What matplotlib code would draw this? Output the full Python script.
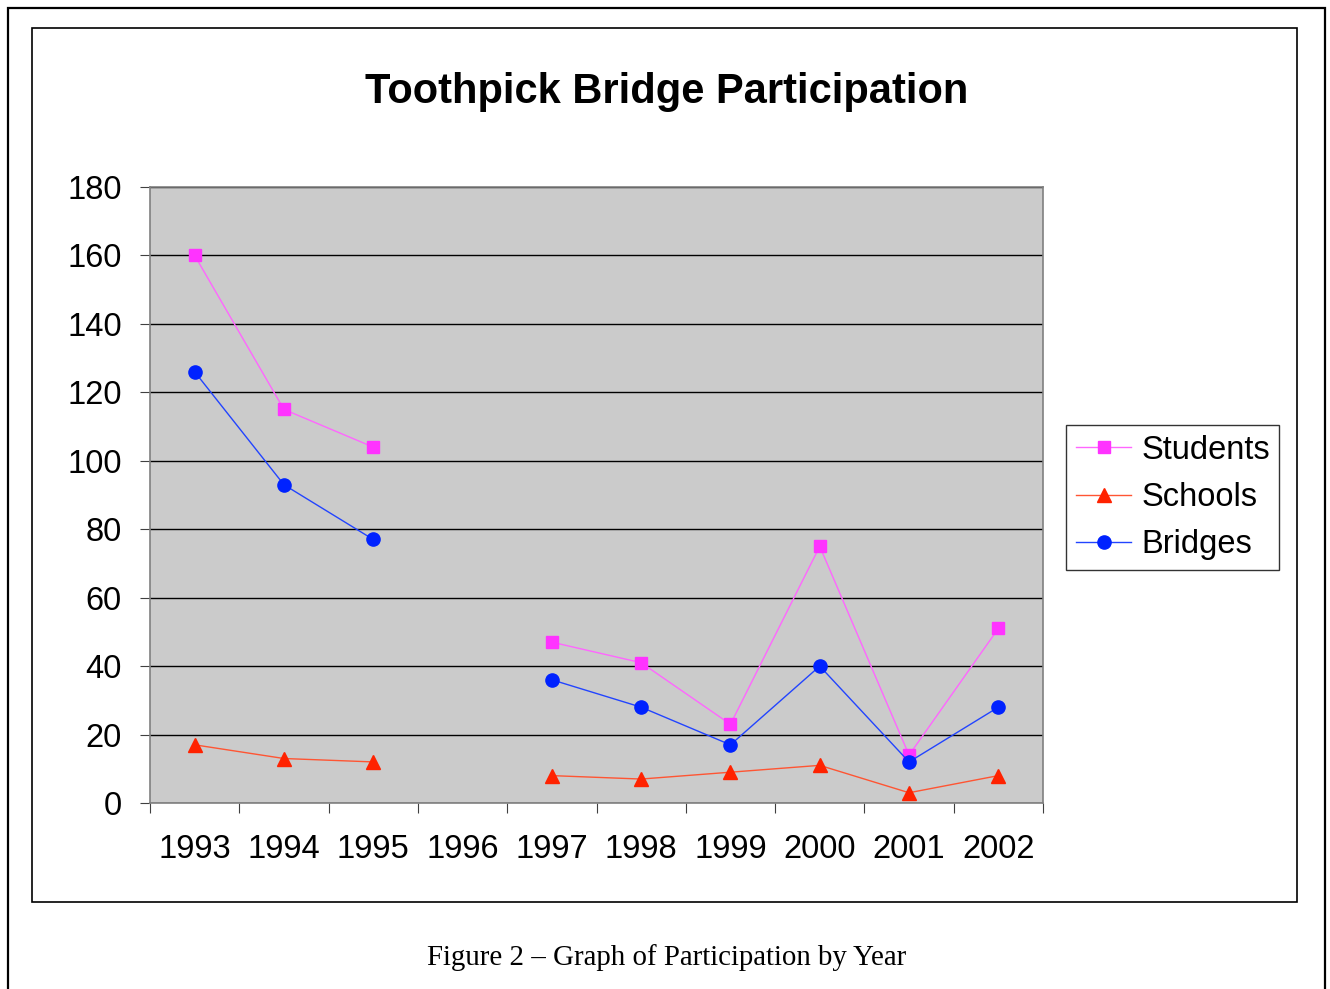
import numpy as np
import matplotlib
matplotlib.use('Agg')
import matplotlib.pyplot as plt
from matplotlib.patches import Rectangle

# Data (1996 has no data)
years = ['1993', '1994', '1995', '1996', '1997', '1998', '1999', '2000', '2001', '2002']
students = [160, 115, 104, np.nan, 47, 41, 23, 75, 14, 51]
schools = [17, 13, 12, np.nan, 8, 7, 9, 11, 3, 8]
bridges = [126, 93, 77, np.nan, 36, 28, 17, 40, 12, 28]

plt.rcParams['font.family'] = ['Liberation Sans', 'DejaVu Sans']

fig = plt.figure(figsize=(13.3, 9.89), dpi=100)

# page frame and chart frame
fig.patches.append(Rectangle((8/1330, -0.01), 1317/1330, 1 - 8/989 + 0.01, transform=fig.transFigure,
                             fill=False, edgecolor='black', linewidth=1.6))
fig.patches.append(Rectangle((32/1330, 1 - 902/989), 1265/1330, 874/989, transform=fig.transFigure,
                             fill=False, edgecolor='black', linewidth=1.2))

ax = fig.add_axes([150/1330, 1 - 803/989, 893/1330, 616/989])
ax.set_facecolor('#CBCBCB')
x = np.arange(len(years))

ax.plot(x, students, color='#FF66FF', linewidth=1, marker='s', markersize=8,
        markerfacecolor='#FF33FF', markeredgecolor='#FF33FF', label='Students')
ax.plot(x, schools, color='#FF5533', linewidth=1, marker='^', markersize=10.5,
        markerfacecolor='#FF2200', markeredgecolor='#FF2200', label='Schools')
ax.plot(x, bridges, color='#2244FF', linewidth=1, marker='o', markersize=9.5,
        markerfacecolor='#0022FF', markeredgecolor='#0022FF', label='Bridges')

ax.set_xlim(-0.5, len(years) - 0.5)
ax.set_ylim(0, 180)
ax.set_yticks(np.arange(0, 181, 20))
ax.yaxis.grid(True, color='black', linewidth=1)
ax.set_axisbelow(True)

# category ticks sit between years, labels centred on years
ax.set_xticks(np.arange(-0.5, len(years)), minor=False)
ax.set_xticklabels([])
ax.set_xticks(x, minor=True)
ax.set_xticklabels(years, minor=True, fontsize=23.5)
ax.tick_params(axis='x', which='minor', length=0, pad=22)
ax.tick_params(axis='x', which='major', length=7.2, direction='out', color='#404040')
ax.tick_params(axis='y', length=7.2, direction='out', labelsize=23.5, pad=13, color='#404040')

for s in ax.spines.values():
    s.set_color('#808080')
    s.set_linewidth(1.2)

fig.text(667/1330, 1 - 92/989, 'Toothpick Bridge Participation', ha='center', va='center',
         fontsize=30, fontweight='bold')

leg = fig.legend(loc='upper left', bbox_to_anchor=(1066/1330, 1 - 425/989), borderaxespad=0,
                 fontsize=23.5, frameon=True, fancybox=False, edgecolor='black', handlelength=1.7,
                 borderpad=0.3, labelspacing=0.5, handletextpad=0.3)
leg.get_frame().set_linewidth(1)

fig.text(667/1330, 1 - 958/989, 'Figure 2 \u2013 Graph of Participation by Year', ha='center', va='center',
         fontsize=20.8, family=['Liberation Serif', 'DejaVu Serif'])

fig.savefig('out.png', dpi=100)
